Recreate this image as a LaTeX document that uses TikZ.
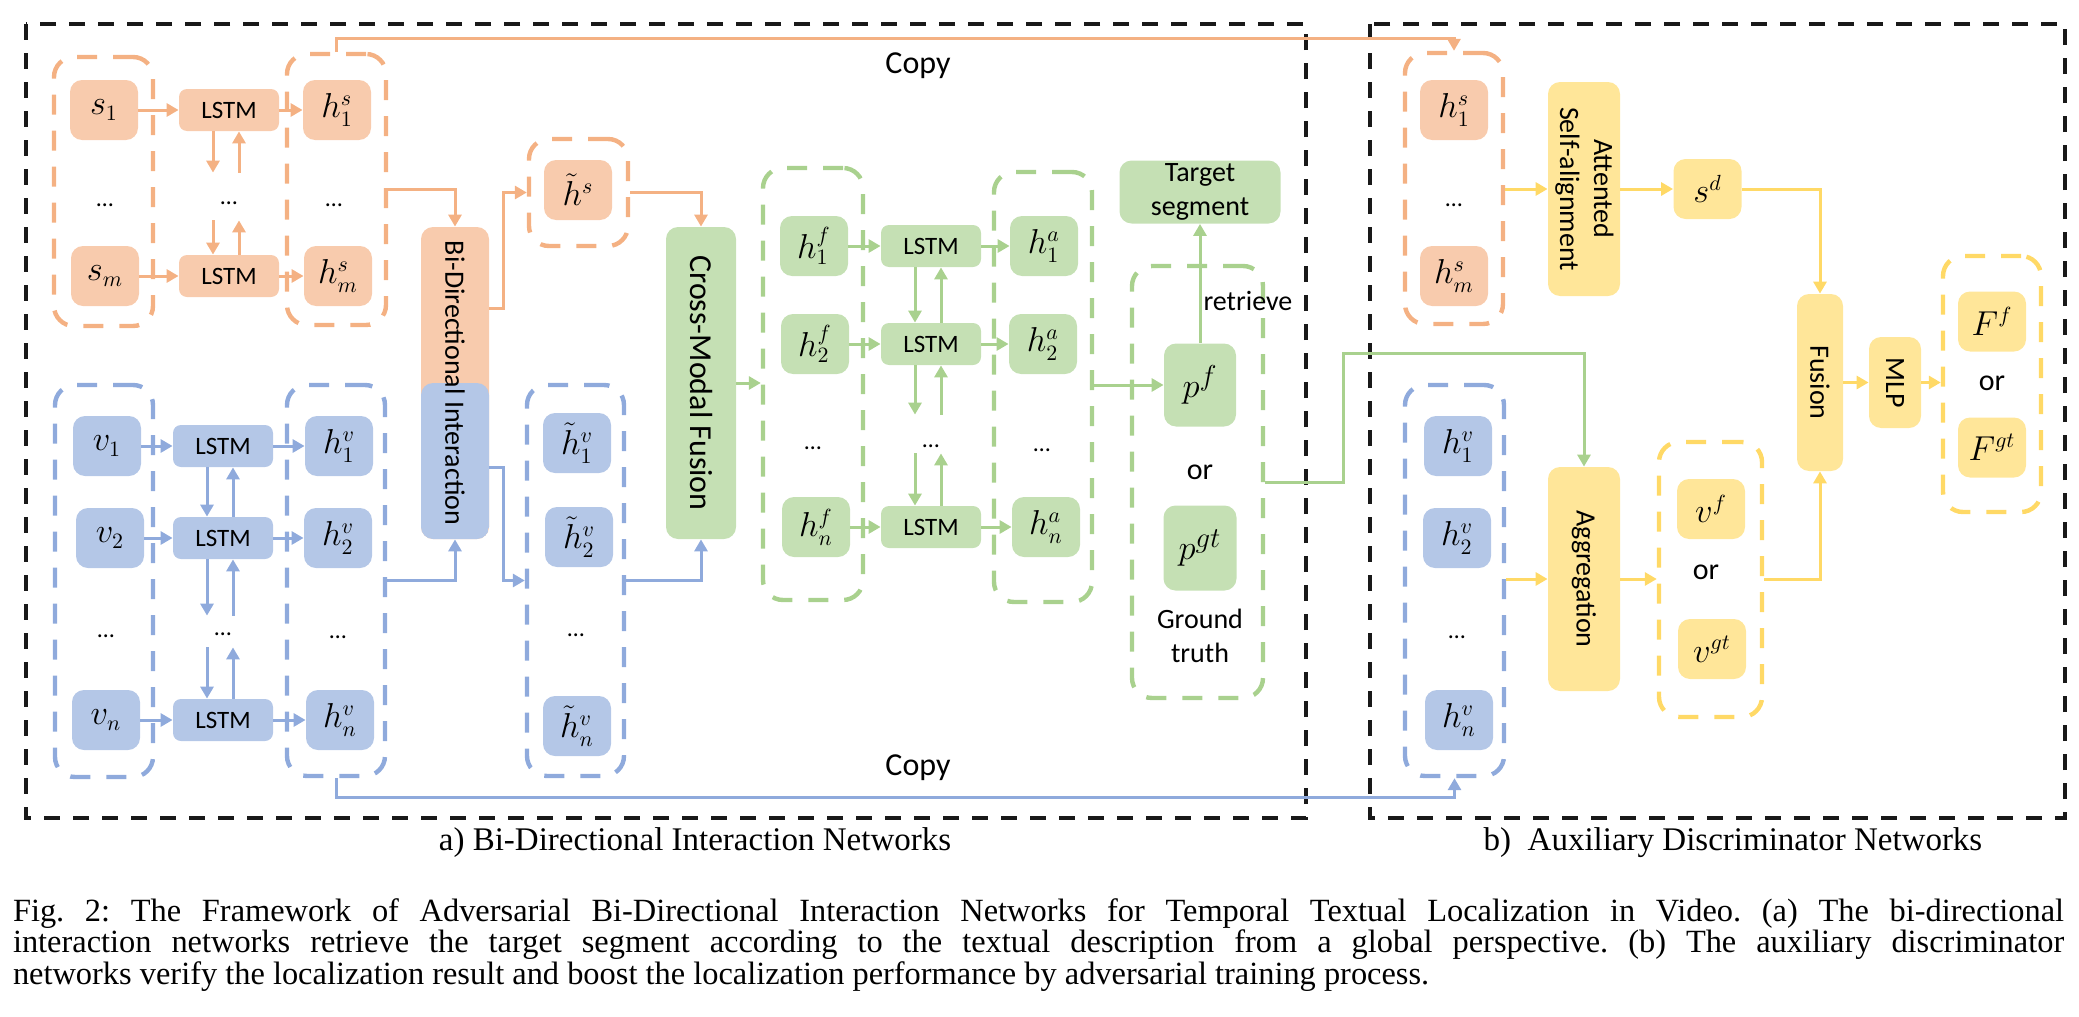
\documentclass[tikz,border=0pt]{standalone}
\usepackage{fontspec}
\setmainfont{Carlito}
\newfontfamily\capfont{Liberation Serif}
\usetikzlibrary{arrows.meta}
\definecolor{SFill}{HTML}{F8CBAD}
\definecolor{SLine}{HTML}{F4B183}
\definecolor{VFill}{HTML}{B4C7E7}
\definecolor{VLine}{HTML}{8FAADC}
\definecolor{GFill}{HTML}{C5E0B4}
\definecolor{GLine}{HTML}{A9D18E}
\definecolor{YFill}{HTML}{FFE699}
\definecolor{YLine}{HTML}{FFD966}
\newcommand{\lowdots}[1]{\raisebox{-#1}[0pt][0pt]{\dots}}

\tikzset{
  cell/.style={fill=#1, rounded corners=6pt, minimum width=34pt, minimum height=30pt, inner sep=0pt, font=\fontsize{16}{18}\selectfont},
  lstm/.style={fill=#1, rounded corners=4pt, minimum width=50pt, minimum height=21pt, inner sep=0pt, font=\fontsize{12.5}{14}\selectfont},
  grp/.style={draw=#1, line width=2.2pt, dash pattern=on 10pt off 8pt, rounded corners=10pt, inner sep=0pt},
  blk/.style={fill=#1, rounded corners=6pt, inner sep=0pt, font=\fontsize{14}{17}\selectfont},
  flow/.style={draw=#1, line width=1.5pt, -{Triangle[length=6pt,width=6.5pt]}},
  dts/.style={inner sep=0pt, font=\fontsize{12}{14}\selectfont},
  lbl/.style={inner sep=1pt, font=\fontsize{14}{17}\selectfont},
  blkbox/.style={draw=black!90, line width=2pt, dash pattern=on 8pt off 6.5pt},
}

\begin{document}
\begin{tikzpicture}[x=0.5pt, y=-0.5pt]
  \useasboundingbox (0,0) rectangle (2079,1017);

  % Outer frames
  \draw[blkbox] (26,24) rectangle (1306,818);
  \draw[blkbox] (1370,24) rectangle (2065,818);

  % Groups
  \node[grp=SLine, minimum width=49.5pt, minimum height=134.5pt] (sgrp) at (103.5,191.5) {};
  \node[grp=SLine, minimum width=49.5pt, minimum height=135.5pt] (hsgrp) at (336.5,189.5) {};
  \node[grp=VLine, minimum width=49pt, minimum height=196pt] (vgrp) at (104,581) {};
  \node[grp=VLine, minimum width=49pt, minimum height=195.5pt] (hvgrp) at (336,580.5) {};
  \node[grp=SLine, minimum width=49.5pt, minimum height=53.5pt] (htsgrp) at (578.5,192.5) {};
  \node[grp=VLine, minimum width=48.5pt, minimum height=195.5pt] (htvgrp) at (575.5,580.5) {};
  \node[grp=GLine, minimum width=50pt, minimum height=216pt] (hfgrp) at (813,384) {};
  \node[grp=GLine, minimum width=49pt, minimum height=215pt] (hagrp) at (1043,387) {};
  \node[grp=GLine, minimum width=65.5pt, minimum height=216pt] (pfgrp) at (1197.5,482) {};
  \node[grp=SLine, minimum width=49pt, minimum height=135.5pt] (hsgrpb) at (1454,188.5) {};
  \node[grp=VLine, minimum width=49.5pt, minimum height=195.5pt] (hvgrpb) at (1454.5,580.5) {};
  \node[grp=YLine, minimum width=51.5pt, minimum height=137.5pt] (vgrpb) at (1710.5,579.5) {};
  \node[grp=YLine, minimum width=49pt, minimum height=128pt] (fgrp) at (1992,384) {};

  % Sentence branch
  \node[cell=SFill] (s1) at (104,110) {$s_1$};
  \node[cell=SFill] (sm) at (105,276) {$s_m$};
  \node[dts] at (105,205) {\dots};
  \node[lstm=SFill] (ls1) at (229,110) {LSTM};
  \node[lstm=SFill] (lsm) at (229,276) {LSTM};
  \node[dts, minimum height=23.5pt] (lsd) at (229,196.5) {\lowdots{4pt}};
  \node[cell=SFill] (hs1) at (337,110) {$h^s_1$};
  \node[cell=SFill] (hsm) at (338,276) {$h^s_m$};
  \node[dts] at (334,205) {\dots};

  % Video branch
  \node[cell=VFill] (v1) at (107,446) {$v_1$};
  \node[cell=VFill] (v2) at (110,538) {$v_2$};
  \node[dts] at (106,636) {\dots};
  \node[cell=VFill] (vn) at (106,720) {$v_n$};
  \node[lstm=VFill] (lb1) at (223,446) {LSTM};
  \node[lstm=VFill] (lb2) at (223,538) {LSTM};
  \node[dts, minimum height=15.5pt] (lbd) at (223,631.5) {\lowdots{2pt}};
  \node[lstm=VFill] (lbn) at (223,720) {LSTM};
  \node[cell=VFill] (hv1) at (339,446) {$h^v_1$};
  \node[cell=VFill] (hv2) at (338,538) {$h^v_2$};
  \node[dts] at (338,637) {\dots};
  \node[cell=VFill] (hvn) at (340,720) {$h^v_n$};

  % Interaction and fusion
  \node[blk=SFill, minimum width=34pt, minimum height=156pt,
        path picture={\fill[VFill] (path picture bounding box.west) rectangle (path picture bounding box.south east);}]
        (bidir) at (455,383) {\rotatebox{-90}{Bi-Directional Interaction}};
  \node[cell=SFill] (hts) at (578,190) {$\tilde{h}^s$};
  \node[cell=VFill] (htv1) at (577,443) {$\tilde{h}^v_1$};
  \node[cell=VFill] (htv2) at (579,537) {$\tilde{h}^v_2$};
  \node[dts] at (576,635) {\dots};
  \node[cell=VFill] (htvn) at (577,726) {$\tilde{h}^v_n$};
  \node[blk=GFill, minimum width=35pt, minimum height=156pt, font=\fontsize{16}{19}\selectfont]
        (cmf) at (701,383) {\rotatebox{-90}{Cross-Modal Fusion}};

  % Localization
  \node[cell=GFill] (hf1) at (814,246) {$h^f_1$};
  \node[cell=GFill] (hf2) at (815,344) {$h^f_2$};
  \node[dts] at (813,448) {\dots};
  \node[cell=GFill] (hfn) at (816,527) {$h^f_n$};
  \node[lstm=GFill] (lg1) at (931,246) {LSTM};
  \node[lstm=GFill] (lg2) at (931,344) {LSTM};
  \node[dts, minimum height=19pt] (lgd) at (931,434) {\lowdots{6.5pt}};
  \node[lstm=GFill] (lgn) at (931,527) {LSTM};
  \node[cell=GFill] (ha1) at (1044,246) {$h^a_1$};
  \node[cell=GFill] (ha2) at (1043,344) {$h^a_2$};
  \node[dts] at (1042,450) {\dots};
  \node[cell=GFill] (han) at (1046,527) {$h^a_n$};
  \node[blk=GFill, minimum width=80.5pt, minimum height=31.5pt, align=center] (tseg) at (1200,192) {Target\\segment};
  \node[cell=GFill, minimum width=36pt, minimum height=41.5pt, font=\fontsize{19}{21}\selectfont] (pf) at (1200,385) {$p^f$};
  \node[lbl, font=\fontsize{15}{17}\selectfont] (por) at (1200,472) {or};
  \node[cell=GFill, minimum width=36.5pt, minimum height=42.5pt, font=\fontsize{19}{21}\selectfont] (pgt) at (1200,548) {$p^{gt}$};
  \node[lbl, align=center] (gt) at (1200,636) {Ground\\truth};

  % Discriminator
  \node[cell=SFill] (hsb1) at (1454,110) {$h^s_1$};
  \node[dts] at (1454,205) {\dots};
  \node[cell=SFill] (hsbm) at (1454,276) {$h^s_m$};
  \node[blk=YFill, minimum width=36pt, minimum height=107pt] (att) at (1584,189)
        {\rotatebox{-90}{\begin{tabular}{@{}c@{}}Attented\\Self-alignment\end{tabular}}};
  \node[cell=YFill] (sd) at (1707.5,189) {$s^d$};
  \node[cell=VFill] (hvb1) at (1458,446) {$h^v_1$};
  \node[cell=VFill] (hvb2) at (1457,538) {$h^v_2$};
  \node[dts] at (1457,637) {\dots};
  \node[cell=VFill] (hvbn) at (1459,720) {$h^v_n$};
  \node[blk=YFill, minimum width=36pt, minimum height=112pt] (agg) at (1584,579) {\rotatebox{-90}{Aggregation}};
  \node[cell=YFill] (vf) at (1711,509) {$v^f$};
  \node[lbl, font=\fontsize{15}{17}\selectfont] (vor) at (1706,572) {or};
  \node[cell=YFill] (vgt) at (1712,649) {$v^{gt}$};
  \node[blk=YFill, minimum width=23pt, minimum height=88.5pt] (fus) at (1820,382.5) {\rotatebox{-90}{Fusion}};
  \node[blk=YFill, minimum width=26pt, minimum height=45.5pt] (mlp) at (1895,382.5) {\rotatebox{-90}{MLP}};
  \node[cell=YFill] (ff) at (1992,321.5) {$F^f$};
  \node[lbl, font=\fontsize{15}{17}\selectfont] (forr) at (1992,383) {or};
  \node[cell=YFill] (fgt) at (1992,447.5) {$F^{gt}$};

  % Recurrent links
  \foreach \a/\b in {s1/ls1, sm/lsm, ls1/hs1, lsm/hsm}
    \draw[flow=SLine] (\a) -- (\b);
  \foreach \a/\b in {v1/lb1, v2/lb2, vn/lbn, lb1/hv1, lb2/hv2, lbn/hvn}
    \draw[flow=VLine] (\a) -- (\b);
  \foreach \a/\b in {hf1/lg1, hf2/lg2, hfn/lgn, lg1/ha1, lg2/ha2, lgn/han}
    \draw[flow=GLine] (\a) -- (\b);
  \foreach \u/\d/\c in {ls1/lsd/SLine, lsd/lsm/SLine, lb1/lb2/VLine, lb2/lbd/VLine, lbd/lbn/VLine,
                        lg1/lg2/GLine, lg2/lgd/GLine, lgd/lgn/GLine} {
    \draw[flow=\c] ([xshift=-8pt]\u.south) -- ([xshift=-8pt]\d.north);
    \draw[flow=\c] ([xshift=5pt]\d.north) -- ([xshift=5pt]\u.south);
  }

  % Interaction links
  \draw[flow=SLine] (hsgrp.east) -| (bidir.north);
  \draw[flow=VLine] (hvgrp.east) -| (bidir.south);
  \draw[flow=SLine] ([yshift=37.5pt]bidir.east) -- ++(7pt,0) |- (htsgrp.west);
  \draw[flow=VLine] ([yshift=-42pt]bidir.east) -- ++(7pt,0) |- (htvgrp.west);
  \draw[flow=SLine] (htsgrp.east) -| (cmf.north);
  \draw[flow=VLine] (htvgrp.east) -| (cmf.south);
  \draw[flow=GLine] (cmf.east) -- (cmf.east -| hfgrp.west);
  \draw[flow=GLine] (hagrp.east |- pf.west) -- (pf.west);
  \draw[flow=GLine] (pf) -- node[pos=0.35, right, lbl] {retrieve} (tseg);

  % Copy links
  \coordinate (ctop) at (0,38);
  \coordinate (cbot) at (0,797);
  \draw[flow=SLine] (hsgrp.north) -- (hsgrp.north |- ctop) -| (hsgrpb.north);
  \draw[flow=VLine] (hvgrp.south) -- (hvgrp.south |- cbot) -| (hvgrpb.south);
  \node[lbl, font=\fontsize{16}{19}\selectfont] at (918,66) {Copy};
  \node[lbl, font=\fontsize{16}{19}\selectfont] at (918,768) {Copy};

  % Discriminator links
  \coordinate (gbend) at (1343,353);
  \draw[flow=GLine] (pfgrp.east) -| (gbend) -| (agg.north);
  \draw[flow=YLine] (hsgrpb.east |- att.west) -- (att.west);
  \draw[flow=YLine] (att) -- (sd);
  \draw[flow=YLine] (sd.east) -| (fus.north);
  \draw[flow=YLine] (hvgrpb.east |- agg.west) -- (agg.west);
  \draw[flow=YLine] (agg.east) -- (agg.east -| vgrpb.west);
  \draw[flow=YLine] (vgrpb.east) -| (fus.south);
  \draw[flow=YLine] (fus) -- (mlp);
  \draw[flow=YLine] (mlp.east) -- (mlp.east -| fgrp.west);

  % Captions
  \node[font=\capfont\fontsize{16.5}{19}\selectfont] at (695,843) {a) Bi-Directional Interaction Networks};
  \node[font=\capfont\fontsize{16.5}{19}\selectfont] at (1733,843) {b)~~Auxiliary Discriminator Networks};
  \node[font=\capfont, text width=1025.5pt, align=justify, inner sep=0pt] at (1038.5,945)
    {\fontsize{16.2}{16.5}\selectfont\frenchspacing\hyphenpenalty=10000 Fig. 2: The Framework of Adversarial Bi-Directional Interaction Networks for Temporal Textual Localization in Video. (a) The bi-directional\linebreak
     interaction networks retrieve the target segment according to the textual description from a global perspective. (b) The auxiliary discriminator\linebreak
     networks verify the localization result and boost the localization performance by adversarial training process.};
\end{tikzpicture}
\end{document}
